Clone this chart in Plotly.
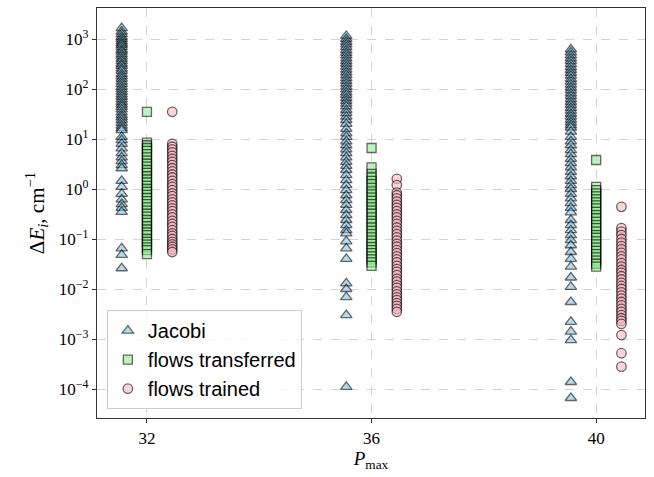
import plotly.graph_objects as go

# x positions (P_max) and offsets per method
p_max = [32, 36, 40]
offset_jacobi = -0.45
offset_transferred = 0.0
offset_trained = 0.45

# y tick labels
y_tickvals = [1e-4, 1e-3, 1e-2, 1e-1, 1e0, 1e1, 1e2, 1e3]
y_ticktext = ["10<sup>−4</sup>", "10<sup>−3</sup>", "10<sup>−2</sup>", "10<sup>−1</sup>",
              "10<sup>0</sup>", "10<sup>1</sup>", "10<sup>2</sup>", "10<sup>3</sup>"]

# Delta E_i values (cm^-1)
jacobi_32 = [1650, 1400, 1250, 1100, 1000, 900, 820, 760, 690, 610, 560, 500, 450, 400, 360,
             320, 290, 255, 230, 200, 180, 160, 140, 125, 110, 98, 88, 78, 70, 62, 55, 49, 44,
             39, 34, 30, 27, 24, 21, 18.5, 16.5, 15,
             11, 9.5, 8, 6.5, 5.2, 4.3, 3.6, 3.0, 2.6,
             1.45, 1.1, 0.8, 0.62, 0.5, 0.42, 0.35,
             0.065, 0.048, 0.026]
transferred_32 = [35, 8.5, 7.5, 6.6, 5.8, 5.0, 4.3, 3.7, 3.2, 2.8, 2.4, 2.1, 1.8, 1.55, 1.35,
                  1.15, 1.0, 0.88, 0.76, 0.66, 0.57, 0.5, 0.43, 0.37, 0.32, 0.28, 0.24, 0.21,
                  0.18, 0.155, 0.135, 0.12, 0.1, 0.088, 0.077, 0.068, 0.06, 0.05]
trained_32 = [35, 8.0, 7.0, 6.2, 5.4, 4.6, 4.0, 3.5, 3.0, 2.6, 2.25, 1.95, 1.7, 1.45, 1.25,
              1.1, 0.95, 0.82, 0.72, 0.62, 0.54, 0.47, 0.41, 0.36, 0.31, 0.27, 0.23, 0.2,
              0.175, 0.15, 0.13, 0.115, 0.1, 0.088, 0.078, 0.07, 0.062, 0.055]

jacobi_36 = [1150, 1000, 880, 780, 690, 600, 530, 470, 410, 360, 320, 280, 245, 215, 190, 165,
             145, 128, 112, 98, 86, 76, 66, 58, 51, 45,
             38, 33, 28, 24, 20, 16, 13, 11, 9, 7.5, 6.2, 5.2, 4.3, 3.5, 2.9, 2.4, 1.9, 1.5,
             1.2, 0.95, 0.75, 0.6, 0.48, 0.38, 0.3, 0.24, 0.19, 0.15, 0.13,
             0.09, 0.065, 0.04, 0.013, 0.01, 0.0069, 0.003, 0.00011]
transferred_36 = [6.6, 2.7, 2.0, 1.7, 1.45, 1.25, 1.05, 0.9, 0.78, 0.67, 0.58, 0.5, 0.43, 0.37,
                  0.32, 0.27, 0.23, 0.2, 0.17, 0.145, 0.125, 0.108, 0.093, 0.08, 0.069, 0.06,
                  0.052, 0.045, 0.039, 0.034, 0.029]
trained_36 = [1.6, 1.2, 0.85, 0.75, 0.65, 0.56, 0.48, 0.42, 0.36, 0.31, 0.27, 0.23, 0.2, 0.17,
              0.145, 0.125, 0.108, 0.093, 0.08, 0.07, 0.06, 0.052, 0.045, 0.039, 0.034, 0.029,
              0.025, 0.022, 0.019, 0.016, 0.014, 0.012, 0.0105, 0.009, 0.0078, 0.0068, 0.006,
              0.0052, 0.0046, 0.004, 0.0035]

jacobi_40 = [620, 540, 470, 410, 360, 315, 275, 240, 210, 185, 160, 140, 122, 107, 94, 82, 72,
             63, 55, 48, 42, 37, 32, 28, 24.5, 21.5, 19, 17,
             14, 11, 9, 7.5, 6, 5, 4, 3.3, 2.7, 2.2, 1.8, 1.45, 1.2, 1.0, 0.8, 0.65, 0.52,
             0.42, 0.34,
             0.24, 0.19, 0.15, 0.12, 0.095, 0.075, 0.055, 0.04, 0.028,
             0.017, 0.011, 0.0055, 0.0022, 0.0014, 0.00095, 0.000138, 0.000066]
transferred_40 = [3.8, 1.1, 0.95, 0.82, 0.71, 0.62, 0.54, 0.47, 0.41, 0.35, 0.3, 0.26, 0.22,
                  0.19, 0.165, 0.14, 0.12, 0.105, 0.09, 0.078, 0.067, 0.058, 0.05, 0.043,
                  0.037, 0.032, 0.028]
trained_40 = [0.44, 0.165, 0.14, 0.12, 0.1, 0.085, 0.072, 0.062, 0.053, 0.045, 0.039, 0.033,
              0.028, 0.024, 0.021, 0.018, 0.0155, 0.0133, 0.0115, 0.01, 0.0086, 0.0074, 0.0064,
              0.0055, 0.0047, 0.004, 0.0035, 0.003, 0.0026, 0.0023, 0.002, 0.0012,
              0.00052, 0.00028]

jacobi = [jacobi_32, jacobi_36, jacobi_40]
transferred = [transferred_32, transferred_36, transferred_40]
trained = [trained_32, trained_36, trained_40]


def column(groups, offset):
    xs, ys = [], []
    for p, vals in zip(p_max, groups):
        xs += [p + offset] * len(vals)
        ys += list(vals)
    return xs, ys


fig = go.Figure()
series = [
    ("Jacobi", jacobi, offset_jacobi, "triangle-up", "#7cc4f0", 10),
    ("flows transferred", transferred, offset_transferred, "square", "#90ee90", 9),
    ("flows trained", trained, offset_trained, "circle", "#ffb6c1", 9.5),
]
for name, groups, off, sym, col, size in series:
    xs, ys = column(groups, off)
    fig.add_trace(go.Scatter(
        x=xs, y=ys, mode="markers", name=name,
        marker=dict(symbol=sym, size=size, color=col, opacity=0.6,
                    line=dict(color="black", width=1.3)),
    ))

serif = "Liberation Serif"
fig.update_layout(
    width=654, height=477,
    margin=dict(l=97, r=9, t=8, b=59),
    paper_bgcolor="white", plot_bgcolor="white",
    showlegend=True,
    legend=dict(x=0.018, y=0.263, xanchor="left", yanchor="top",
                bgcolor="rgba(255,255,255,0.85)", bordercolor="#cccccc", borderwidth=1,
                font=dict(family="Liberation Sans", size=20, color="black"),
                itemsizing="trace", tracegroupgap=3),
    font=dict(family=serif, color="black"),
)
fig.update_xaxes(
    range=[31.11, 40.87], tickvals=p_max, ticktext=[str(p) for p in p_max],
    showgrid=True, gridcolor="#d3d3d3", griddash="dash", gridwidth=1,
    showline=True, linecolor="#333333", linewidth=1.3, mirror=True,
    ticks="outside", ticklen=4, tickcolor="#333333",
    tickfont=dict(family=serif, size=17),
    title=dict(text="<i>P</i><sub>max</sub>", font=dict(family=serif, size=19), standoff=0),
    zeroline=False, automargin=False,
)
fig.update_yaxes(
    type="log", range=[-4.58, 3.62], tickvals=y_tickvals, ticktext=y_ticktext,
    showgrid=True, gridcolor="#d3d3d3", griddash="dash", gridwidth=1,
    showline=True, linecolor="#333333", linewidth=1.3, mirror=True,
    ticks="outside", ticklen=4, tickcolor="#333333",
    tickfont=dict(family=serif, size=17),
    title=dict(text="Δ<i>E</i><sub><i>i</i></sub>, cm<sup>−1</sup>",
               font=dict(family=serif, size=21), standoff=8),
    zeroline=False, automargin=False,
)

fig.write_html("out.html", config={"displayModeBar": False},
               post_script="document.body.style.margin='0';")
